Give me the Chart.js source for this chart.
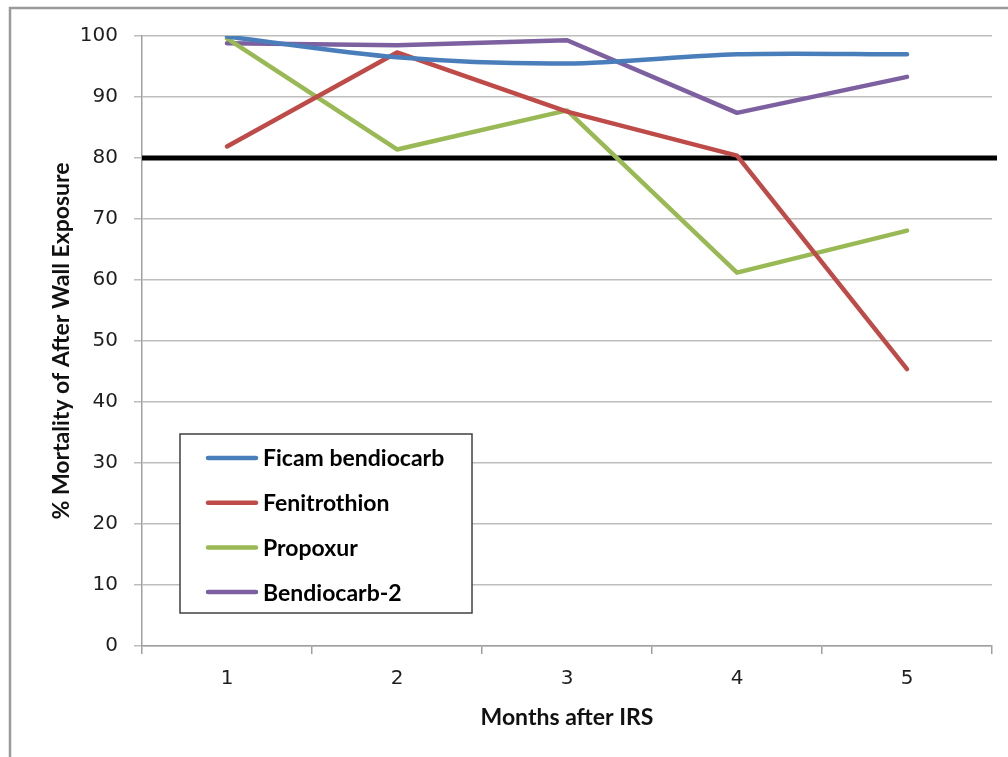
<!DOCTYPE html>
<html>
<head>
<meta charset="utf-8">
<script src="https://cdn.jsdelivr.net/npm/chart.js@4/dist/chart.umd.min.js"></script>
<style>
  html, body { margin: 0; padding: 0; background: #ffffff; }
  #wrap { width: 1008px; height: 757px; }
</style>
</head>
<body>
<div id="wrap"><canvas id="c" width="1008" height="757"></canvas></div>
<script>
// Months after indoor residual spraying
const months = ['1', '2', '3', '4', '5'];

// % mortality after wall exposure, per insecticide
const ficamBendiocarb = [99.9, 96.5, 95.5, 97.0, 97.0];
const fenitrothion    = [81.9, 97.3, 87.6, 80.4, 45.4];
const propoxur        = [99.6, 81.4, 87.8, 61.2, 68.1];
const bendiocarb2     = [98.8, 98.5, 99.3, 87.4, 93.3];

const seriesNames  = ['Ficam bendiocarb', 'Fenitrothion', 'Propoxur', 'Bendiocarb-2'];
const seriesColors = ['#4A7EBB', '#BE4B48', '#98B954', '#7D60A0'];

// WHO efficacy cut-off
const cutoff = 80;

const yMin = 0, yMax = 100, yStep = 10;

const tickFont  = { family: '"DejaVu Sans", Verdana, sans-serif', size: 20 };
const titleFont = { family: 'Lato, "Open Sans", sans-serif', size: 23, weight: 'bold' };

// White page with a grey frame on the left and top edges
const framePlugin = {
  id: 'frame',
  beforeDraw(chart) {
    const ctx = chart.ctx;
    ctx.save();
    ctx.fillStyle = '#ffffff';
    ctx.fillRect(0, 0, chart.width, chart.height);
    ctx.strokeStyle = '#9a9a9a';
    ctx.lineWidth = 2.5;
    ctx.beginPath();
    ctx.moveTo(10, chart.height);
    ctx.lineTo(10, 8);
    ctx.lineTo(chart.width, 8);
    ctx.stroke();
    ctx.restore();
  }
};

// Heavy black reference line at the cut-off value
const cutoffPlugin = {
  id: 'cutoffLine',
  beforeDatasetsDraw(chart, args, opts) {
    const { ctx, chartArea, scales } = chart;
    const y = scales.y.getPixelForValue(opts.value);
    ctx.save();
    ctx.strokeStyle = '#000000';
    ctx.lineWidth = 5;
    ctx.beginPath();
    ctx.moveTo(chartArea.left, y);
    ctx.lineTo(chartArea.right + 5, y);
    ctx.stroke();
    ctx.restore();
  }
};

// Boxed legend sitting inside the plot area
const boxLegendPlugin = {
  id: 'boxLegend',
  afterDraw(chart, args, opts) {
    const ctx = chart.ctx;
    ctx.save();
    ctx.fillStyle = '#ffffff';
    ctx.fillRect(opts.x, opts.y, opts.w, opts.h);
    ctx.strokeStyle = '#404040';
    ctx.lineWidth = 1.5;
    ctx.strokeRect(opts.x, opts.y, opts.w, opts.h);
    ctx.font = 'bold ' + opts.fontSize + 'px ' + opts.fontFamily;
    ctx.textBaseline = 'middle';
    ctx.textAlign = 'left';
    chart.data.datasets.forEach((ds, i) => {
      const cy = opts.firstRow + i * opts.rowGap;
      ctx.strokeStyle = ds.borderColor;
      ctx.lineWidth = 4.5;
      ctx.lineCap = 'round';
      ctx.beginPath();
      ctx.moveTo(opts.lineX0, cy);
      ctx.lineTo(opts.lineX1, cy);
      ctx.stroke();
      ctx.fillStyle = '#000000';
      ctx.fillText(ds.label, opts.textX, cy + 1);
    });
    ctx.restore();
  }
};

const seriesValues = [ficamBendiocarb, fenitrothion, propoxur, bendiocarb2];

new Chart(document.getElementById('c'), {
  type: 'line',
  data: {
    labels: months,
    datasets: seriesValues.map((vals, i) => ({
      label: seriesNames[i],
      data: vals,
      borderColor: seriesColors[i],
      backgroundColor: seriesColors[i],
      borderWidth: 4.5,
      pointRadius: 0,
      pointHoverRadius: 0,
      tension: i === 0 ? 0.3 : 0,
      borderCapStyle: 'round',
      borderJoinStyle: 'round',
      fill: false
    }))
  },
  options: {
    responsive: false,
    animation: false,
    devicePixelRatio: 1,
    layout: { padding: { left: 0, top: 36, right: 16, bottom: 0 } },
    plugins: {
      legend: { display: false },
      tooltip: { enabled: false },
      cutoffLine: { value: cutoff },
      boxLegend: {
        x: 180, y: 434, w: 292, h: 179,
        lineX0: 208, lineX1: 256, textX: 263,
        firstRow: 458, rowGap: 44.7,
        fontSize: 23, fontFamily: 'Lato, "Open Sans", sans-serif'
      }
    },
    scales: {
      x: {
        type: 'category',
        offset: true,
        grid: {
          offset: true,
          drawOnChartArea: false,
          drawTicks: true,
          tickLength: 8,
          color: '#a0a0a0',
          lineWidth: 1.5
        },
        border: { display: true, color: '#a0a0a0', width: 1.5 },
        ticks: { font: tickFont, color: '#1e1e1e', padding: 13, maxRotation: 0 },
        title: {
          display: true,
          text: 'Months after IRS',
          font: titleFont,
          color: '#111111',
          padding: { top: 0, bottom: 26 }
        },
        afterFit(scale) { scale.height = 111; }
      },
      y: {
        min: yMin,
        max: yMax,
        ticks: { stepSize: yStep, font: tickFont, color: '#1e1e1e', padding: 16 },
        grid: {
          drawTicks: true,
          tickLength: 8,
          color: '#bdbdbd',
          lineWidth: 1.5
        },
        border: { display: true, color: '#a0a0a0', width: 1.5 },
        title: {
          display: true,
          text: '% Mortality of After Wall Exposure',
          font: titleFont,
          color: '#111111',
          padding: { top: 48, bottom: 0 }
        },
        afterFit(scale) { scale.width = 142; }
      }
    }
  },
  plugins: [framePlugin, cutoffPlugin, boxLegendPlugin]
});
</script>
</body>
</html>
